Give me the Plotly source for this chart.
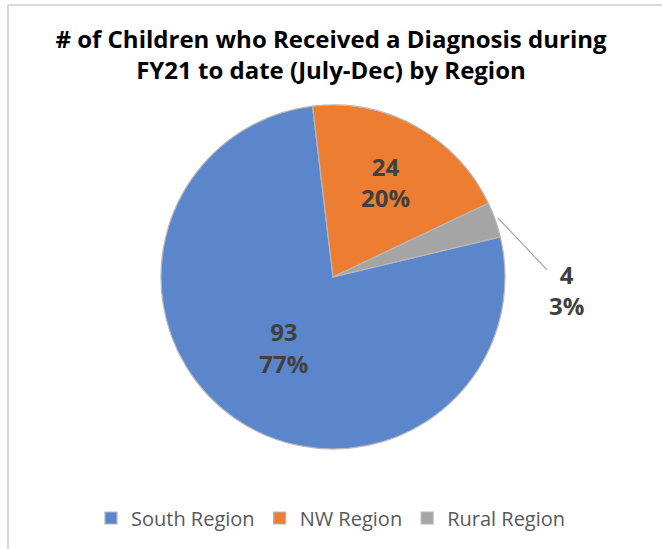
import plotly.graph_objects as go

labels = ["South Region", "NW Region", "Rural Region"]
values = [93, 24, 4]
colors = ["#5B86CC", "#ED7D31", "#A5A5A5"]
title_text = "# of Children who Received a Diagnosis during<br>FY21 to date (July-Dec) by Region"

W, H = 662, 549
cx, cy, r = 333, 277, 172

total = sum(values)
small_idx = 2
small_text = f"{values[small_idx]}<br>{round(100 * values[small_idx] / total)}%"

fig = go.Figure(go.Pie(
    labels=labels,
    values=values,
    sort=False,
    direction="clockwise",
    rotation=76.5,
    marker=dict(colors=colors, line=dict(color="#b8b8b8", width=1.2)),
    texttemplate=["%{value}<br>%{percent:.0%}", "%{value}<br>%{percent:.0%}", ""],
    textposition=["inside", "inside", "none"],
    insidetextorientation="horizontal",
    textfont=dict(family="Open Sans", size=24, color="#404040", weight="bold"),
    domain=dict(x=[(cx - r) / W, (cx + r) / W], y=[(H - cy - r) / H, (H - cy + r) / H]),
    hoverinfo="label+value+percent",
))

fig.add_annotation(
    xref="paper", yref="paper", x=498 / W, y=1 - 218 / H,
    text=small_text, showarrow=True, arrowhead=0, arrowwidth=1.2, arrowcolor="#a6a6a6",
    axref="pixel", ayref="pixel", ax=68, ay=72,
    font=dict(family="Open Sans", size=24, color="#404040", weight="bold"),
    align="center",
)

fig.update_layout(
    width=W, height=H,
    margin=dict(l=0, r=0, t=0, b=0),
    paper_bgcolor="white",
    title=dict(text=title_text, x=0.5, xanchor="center", y=1 - 48 / H, yanchor="middle",
               font=dict(family="Open Sans", size=24, color="#000000", weight="bold")),
    legend=dict(orientation="h", x=0.5, xanchor="center", y=1 - 518 / H, yanchor="middle",
                font=dict(family="Open Sans", size=20, color="#595959"),
                itemwidth=30, traceorder="normal"),
    shapes=[
        dict(type="line", xref="paper", yref="paper", x0=8 / W, x1=1.0, y0=1 - 5 / H, y1=1 - 5 / H,
             line=dict(color="#d9d9d9", width=2)),
        dict(type="line", xref="paper", yref="paper", x0=8 / W, x1=8 / W, y0=0, y1=1 - 5 / H,
             line=dict(color="#d9d9d9", width=2)),
    ],
)

fig.write_html("out.html", config={"displayModeBar": False},
               post_script="document.body.style.margin='0px';")
